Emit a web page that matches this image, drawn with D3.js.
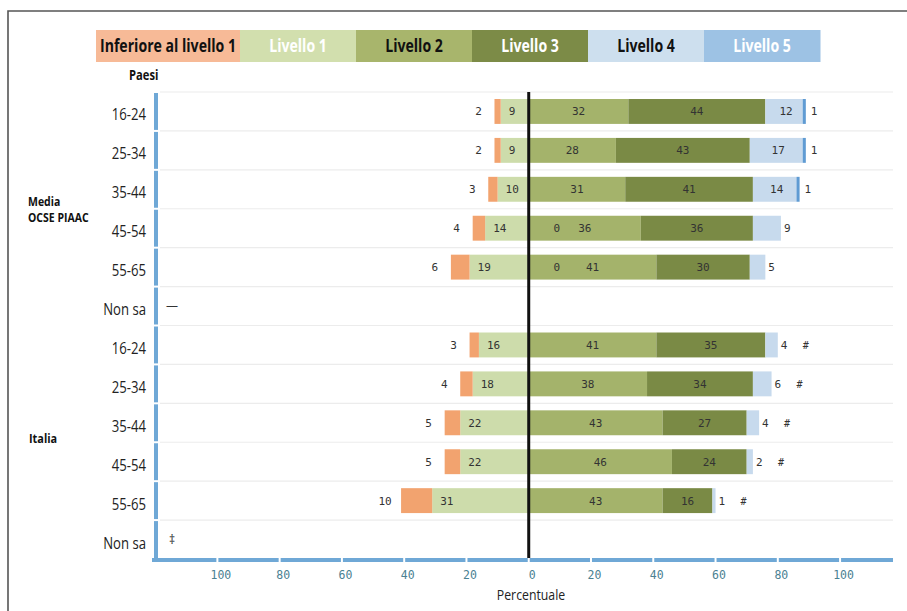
<!DOCTYPE html>
<html>
<head>
<meta charset="utf-8">
<script src="https://cdn.jsdelivr.net/npm/d3@7"></script>
<style>
  html,body{margin:0;padding:0;background:#fff;}
  svg{display:block;}
</style>
</head>
<body>
<svg id="chart" width="907" height="611"></svg>
<script>
// ---------------- DATA ----------------
const levels = ["Inferiore al livello 1","Livello 1","Livello 2","Livello 3","Livello 4","Livello 5"];
const groups = ["Media OCSE PIAAC","Italia"];
const ageGroups = ["16-24","25-34","35-44","45-54","55-65","Non sa"];

// Media OCSE PIAAC (per age group, last = "Non sa")
const mediaBelow1 = [2, 2, 3, 4, 6, null];
const mediaL1     = [9, 9, 10, 14, 19, null];
const mediaL2     = [32, 28, 31, 36, 41, null];
const mediaL3     = [44, 43, 41, 36, 30, null];
const mediaL4     = [12, 17, 14, 9, 5, null];
const mediaL5     = [1, 1, 1, 0, 0, null];
const mediaExtra0 = [null, null, null, "0", "0", null];
// Italia
const italiaBelow1 = [3, 4, 5, 5, 10, null];
const italiaL1     = [16, 18, 22, 22, 31, null];
const italiaL2     = [41, 38, 43, 46, 43, null];
const italiaL3     = [35, 34, 27, 24, 16, null];
const italiaL4     = [4, 6, 4, 2, 1, null];
const italiaL5     = ["#", "#", "#", "#", "#", null];
const italiaExtra0 = [null, null, null, null, null, null];

const nonSaMarks = ["\u2014", "\u2021"];
const tickValues = [-100, -80, -60, -40, -20, 0, 20, 40, 60, 80, 100];
const xDomain = [-121, 117];
const xTitle = "Percentuale";
const yTitle = "Paesi";

// ---------------- STYLE ----------------
const barColors    = ["#f2a36f", "#cddcab", "#a4b36b", "#7a8a45", "#c7daed", "#5f9bd3"];
const legendColors = ["#f7ba97", "#d2dfae", "#a8b56c", "#7c8b47", "#cddfee", "#9dc2e4"];
const legendText   = ["#111", "#fff", "#111", "#fff", "#111", "#fff"];
const sans = '"Open Sans","Liberation Sans",sans-serif';
const mono = '"DejaVu Sans Mono","Liberation Mono",monospace';

// narrow text helper: horizontally condensed text
function ntext(parent, x, y, s, o) {
  o = o || {};
  return parent.append("text")
    .attr("transform", `translate(${x},${y}) scale(${o.sx || 0.8},1)`)
    .attr("text-anchor", o.anchor || "start")
    .attr("font-family", sans)
    .attr("font-weight", o.weight || "normal")
    .attr("font-size", o.size || 14)
    .attr("fill", o.fill || "#222")
    .text(s);
}

// ---------------- BUILD ROWS ----------------
const rows = [];
function addGroup(g, b1, l1, l2, l3, l4, l5, ex) {
  ageGroups.forEach((a, i) => {
    rows.push({key: g + "|" + a, group: g, age: a, b1: b1[i], l1: l1[i], l2: l2[i], l3: l3[i], l4: l4[i], l5: l5[i], extra: ex[i]});
  });
}
addGroup(groups[0], mediaBelow1, mediaL1, mediaL2, mediaL3, mediaL4, mediaL5, mediaExtra0);
addGroup(groups[1], italiaBelow1, italiaL1, italiaL2, italiaL3, italiaL4, italiaL5, italiaExtra0);

const svg = d3.select("#chart");

const x = d3.scaleLinear().domain(xDomain).range([152, 893]);
const y = d3.scaleBand().domain(rows.map(r => r.key)).range([92, 559]).paddingInner(0.36).paddingOuter(0.18);
const step = y.step();
const rowTop = k => y(k) - y.paddingOuter() * step;

// frame
svg.append("path").attr("d", "M8,611 L8,11 L907,11").attr("fill", "none").attr("stroke", "#555").attr("stroke-width", 1.6);

// legend
const lg = svg.append("g");
let lx = 96;
levels.forEach((l, i) => {
  const w = i === 0 ? 144 : 116;
  lg.append("rect").attr("x", lx).attr("y", 30).attr("width", w + 0.5).attr("height", 32).attr("fill", legendColors[i]);
  ntext(lg, lx + w / 2, 52, l, {anchor: "middle", weight: "bold", size: 17, fill: legendText[i], sx: 0.83});
  lx += w;
});

ntext(svg, 129, 80, yTitle, {weight: "bold", size: 14, fill: "#111", sx: 0.8});

// row separators
rows.forEach(r => {
  svg.append("line").attr("x1", 160).attr("x2", 893).attr("y1", rowTop(r.key)).attr("y2", rowTop(r.key))
    .attr("stroke", "#ececec").attr("stroke-width", 1.2);
});

// left axis segments
rows.forEach(r => {
  svg.append("line").attr("x1", 156).attr("x2", 156).attr("y1", rowTop(r.key) + 1).attr("y2", rowTop(r.key) + step - 1)
    .attr("stroke", "#6fa8d6").attr("stroke-width", 4);
});

// bottom axis segments
const breaks = [xDomain[0], ...tickValues, xDomain[1]];
for (let i = 0; i < breaks.length - 1; i++) {
  svg.append("line").attr("x1", x(breaks[i]) + (i === 0 ? 0 : 1)).attr("x2", x(breaks[i + 1]) - (i === breaks.length - 2 ? 0 : 1))
    .attr("y1", 560).attr("y2", 560).attr("stroke", "#6fa8d6").attr("stroke-width", 4);
}
const ax = svg.append("g").attr("transform", "translate(3,560)")
  .call(d3.axisBottom(x).tickValues(tickValues).tickSize(0).tickPadding(11).tickFormat(d => Math.abs(d)));
ax.select(".domain").remove();
ax.selectAll("text").attr("font-family", mono).attr("font-size", 11.5).attr("fill", "#4a8192");

ntext(svg, 531, 600, xTitle, {anchor: "middle", size: 15, fill: "#222", sx: 0.82});

// row labels
rows.forEach(r => {
  ntext(svg, 146, y(r.key) + y.bandwidth() / 2 + 9, r.age, {anchor: "end", size: 16, fill: "#222", sx: 0.82});
});
// group labels
ntext(svg, 28, 206, "Media", {weight: "bold", size: 12.5, fill: "#111", sx: 0.84});
ntext(svg, 28, 222, "OCSE PIAAC", {weight: "bold", size: 12.5, fill: "#111", sx: 0.84});
ntext(svg, 29, 443, groups[1], {weight: "bold", size: 13, fill: "#111", sx: 0.84});

// bars
const bars = svg.append("g");
const lab = svg.append("g").attr("font-family", mono).attr("font-size", 11).attr("fill", "#333");
rows.forEach(r => {
  const yc = y(r.key) + y.bandwidth() / 2;
  if (r.l1 == null) {
    const mark = nonSaMarks[groups.indexOf(r.group)];
    svg.append("text").attr("x", 172).attr("y", yc + 4).attr("text-anchor", "middle").attr("font-family", sans)
      .attr("font-size", 12).attr("fill", "#333").text(mark);
    return;
  }
  const segs = [];
  segs.push({lvl: 1, x0: -r.l1, x1: 0, v: r.l1});
  segs.push({lvl: 0, x0: -(r.l1 + r.b1), x1: -r.l1, v: r.b1});
  let c = 0;
  [r.l2, r.l3, r.l4, r.l5].forEach((v, j) => {
    if (typeof v === "number" && v > 0) { segs.push({lvl: j + 2, x0: c, x1: c + v, v: v}); c += v; }
  });
  segs.forEach(s => {
    bars.append("rect").attr("x", x(s.x0)).attr("y", y(r.key)).attr("width", Math.max(0, x(s.x1) - x(s.x0)))
      .attr("height", y.bandwidth()).attr("fill", barColors[s.lvl]);
  });
  const ty = yc + 4;
  lab.append("text").attr("x", x(-(r.l1 + r.b1)) - 16).attr("y", ty).attr("text-anchor", "middle").text(r.b1);
  lab.append("text").attr("x", x(-r.l1) + 8).attr("y", ty).text(r.l1);
  lab.append("text").attr("x", x(r.l2 / 2)).attr("y", ty).attr("text-anchor", "middle").text(r.l2);
  lab.append("text").attr("x", x(r.l2 + r.l3 / 2)).attr("y", ty).attr("text-anchor", "middle").text(r.l3);
  const end4 = r.l2 + r.l3 + r.l4;
  if (typeof r.l5 === "number" && r.l5 > 0) {
    lab.append("text").attr("x", x(r.l2 + r.l3 + r.l4 / 2) + 2).attr("y", ty).attr("text-anchor", "middle").text(r.l4);
    lab.append("text").attr("x", x(end4 + r.l5) + 5).attr("y", ty).text(r.l5);
  } else {
    lab.append("text").attr("x", x(end4) + 3).attr("y", ty).text(r.l4);
    if (typeof r.l5 === "string") {
      lab.append("text").attr("x", x(end4) + 28).attr("y", ty).attr("text-anchor", "middle").attr("font-size", 10).text(r.l5);
    }
  }
  if (r.extra != null) {
    lab.append("text").attr("x", x(9)).attr("y", ty).attr("text-anchor", "middle").text(r.extra);
  }
});

// zero line
svg.append("line").attr("x1", x(0)).attr("x2", x(0)).attr("y1", 92).attr("y2", 558).attr("stroke", "#111").attr("stroke-width", 3);
</script>
</body>
</html>
